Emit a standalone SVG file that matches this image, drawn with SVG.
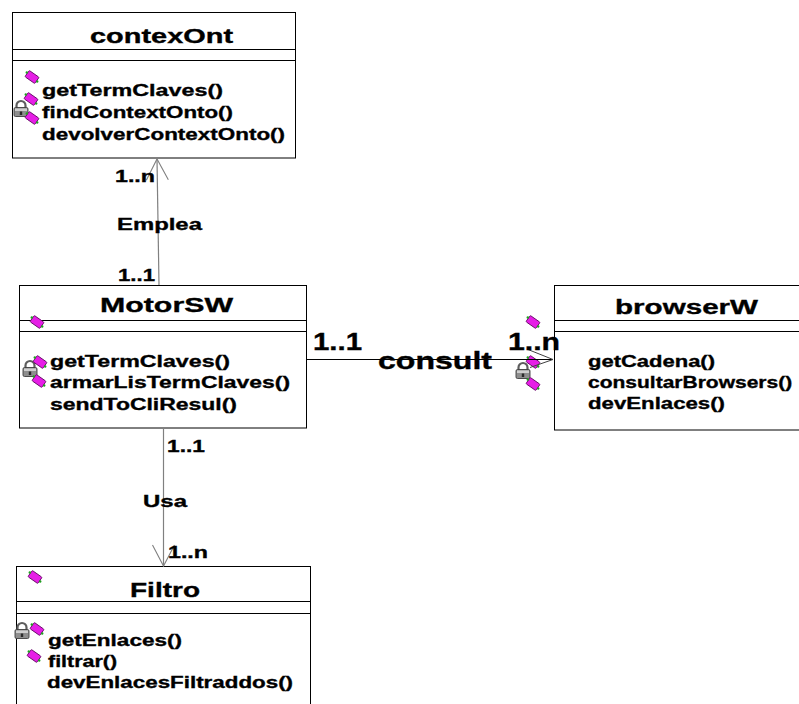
<svg xmlns="http://www.w3.org/2000/svg" width="799" height="704" viewBox="0 0 799 704">
  <style>
    .box { fill: #ffffff; stroke: #000000; stroke-width: 1; }
    .sep { stroke: #000000; stroke-width: 1; }
    text { font-family: "Liberation Sans", Arial, sans-serif; font-weight: bold; fill: #000; stroke: #000; stroke-width: 0.35; }
    .title { font-size: 21px; }
    .op { font-size: 17px; }
    .lbl { font-size: 17px; }
    .lblBig { font-size: 24px; }
    .assoc { stroke: #808080; stroke-width: 1.2; fill: none; }
    .assocDark { stroke: #000000; stroke-width: 1; fill: none; }
  </style>
  <defs>
    <!-- operation icon: tilted magenta tablet -->
    <g id="opIcon">
      <rect x="-6" y="-3.8" width="12" height="7.6" rx="1" transform="rotate(35)" fill="#e61ee6" stroke="#6a0f6a" stroke-width="0.9"/>
      <circle cx="-5.2" cy="-4.5" r="1.2" fill="#1f9f1f"/>
      <circle cx="5.2" cy="4.5" r="1.2" fill="#1f9f1f"/>
    </g>
    <!-- private marker: padlock -->
    <g id="lockIcon">
      <path d="M-4.5,-1 V-3.5 A4.5,4.5 0 0 1 4.5,-3.5 V-1" fill="none" stroke="#5e5e5e" stroke-width="2.2"/>
      <rect x="-7" y="-1.5" width="14" height="9" rx="1.5" fill="#8e8e8e" stroke="#3e3e3e" stroke-width="0.9"/>
      <rect x="-6" y="-0.5" width="12" height="2.5" fill="#cfcfcf"/>
      <rect x="-1.2" y="2.5" width="2.4" height="3.5" fill="#2a2a2a"/>
    </g>
    <marker id="openArrowGray" viewBox="-24 -13 26 26" refX="0" refY="0" markerWidth="26" markerHeight="26" markerUnits="userSpaceOnUse" orient="auto">
      <path d="M-21,-11 L0,0 L-21,11" fill="none" stroke="#808080" stroke-width="1.1"/>
    </marker>
    <marker id="openArrowDark" viewBox="-28 -13 30 26" refX="0" refY="0" markerWidth="30" markerHeight="26" markerUnits="userSpaceOnUse" orient="auto">
      <path d="M-25,-10 L0,0 L-23,8" fill="none" stroke="#404040" stroke-width="1"/>
    </marker>
  </defs>

  <rect x="0" y="0" width="799" height="704" fill="#ffffff"/>

  <!-- class contexOnt -->
  <g id="contexOnt">
    <rect class="box" x="12.5" y="12.5" width="283" height="145.5"/>
    <line class="sep" x1="12.5" y1="49.5" x2="295.5" y2="49.5"/>
    <line class="sep" x1="12.5" y1="60.5" x2="295.5" y2="60.5"/>
    <text class="title" transform="translate(90,43) scale(1.37,1)" textLength="104.4" lengthAdjust="spacingAndGlyphs">contexOnt</text>
    <use href="#opIcon" x="32" y="77"/>
    <use href="#lockIcon" x="21" y="109"/>
    <use href="#opIcon" x="31" y="99"/>
    <use href="#opIcon" x="32" y="118"/>
    <text class="op" transform="translate(42,96) scale(1.37,1)" textLength="132.1" lengthAdjust="spacingAndGlyphs">getTermClaves()</text>
    <text class="op" transform="translate(42,118) scale(1.37,1)" textLength="139.4" lengthAdjust="spacingAndGlyphs">findContextOnto()</text>
    <text class="op" transform="translate(42,140) scale(1.37,1)" textLength="177.4" lengthAdjust="spacingAndGlyphs">devolverContextOnto()</text>
  </g>

  <!-- class MotorSW -->
  <g id="MotorSW">
    <rect class="box" x="19.5" y="285.5" width="287" height="142.5"/>
    <line class="sep" x1="19.5" y1="320.5" x2="306.5" y2="320.5"/>
    <line class="sep" x1="19.5" y1="331.5" x2="306.5" y2="331.5"/>
    <text class="title" transform="translate(100,312) scale(1.37,1)" textLength="97.1" lengthAdjust="spacingAndGlyphs">MotorSW</text>
    <use href="#opIcon" x="37" y="322"/>
    <use href="#lockIcon" x="30" y="369"/>
    <use href="#opIcon" x="40" y="362"/>
    <use href="#opIcon" x="39" y="381"/>
    <text class="op" transform="translate(50,367) scale(1.37,1)" textLength="131.4" lengthAdjust="spacingAndGlyphs">getTermClaves()</text>
    <text class="op" transform="translate(50,388) scale(1.37,1)" textLength="175.2" lengthAdjust="spacingAndGlyphs">armarLisTermClaves()</text>
    <text class="op" transform="translate(50,410) scale(1.37,1)" textLength="136.5" lengthAdjust="spacingAndGlyphs">sendToCliResul()</text>
  </g>

  <!-- class browserW (runs past the right edge) -->
  <g id="browserW">
    <rect class="box" x="554.5" y="285.5" width="260" height="144.5"/>
    <line class="sep" x1="554.5" y1="320.5" x2="814.5" y2="320.5"/>
    <line class="sep" x1="554.5" y1="331.5" x2="814.5" y2="331.5"/>
    <text class="title" transform="translate(615,314) scale(1.37,1)" textLength="104.4" lengthAdjust="spacingAndGlyphs">browserW</text>
    <use href="#opIcon" x="533" y="322"/>
    <use href="#lockIcon" x="523" y="371"/>
    <use href="#opIcon" x="533" y="362"/>
    <use href="#opIcon" x="533" y="384"/>
    <text class="op" transform="translate(588,367) scale(1.37,1)" textLength="92.7" lengthAdjust="spacingAndGlyphs">getCadena()</text>
    <text class="op" transform="translate(588,388) scale(1.37,1)" textLength="149" lengthAdjust="spacingAndGlyphs">consultarBrowsers()</text>
    <text class="op" transform="translate(588,409) scale(1.37,1)" textLength="100" lengthAdjust="spacingAndGlyphs">devEnlaces()</text>
  </g>

  <!-- class Filtro (runs past the bottom edge) -->
  <g id="Filtro">
    <rect class="box" x="16.5" y="566.5" width="294" height="150"/>
    <line class="sep" x1="16.5" y1="601.5" x2="310.5" y2="601.5"/>
    <line class="sep" x1="16.5" y1="613.5" x2="310.5" y2="613.5"/>
    <text class="title" transform="translate(130,597) scale(1.37,1)" textLength="51.1" lengthAdjust="spacingAndGlyphs">Filtro</text>
    <use href="#opIcon" x="35" y="577"/>
    <use href="#lockIcon" x="22" y="631"/>
    <use href="#opIcon" x="37" y="629"/>
    <use href="#opIcon" x="34" y="656"/>
    <text class="op" transform="translate(48,646) scale(1.37,1)" textLength="97.8" lengthAdjust="spacingAndGlyphs">getEnlaces()</text>
    <text class="op" transform="translate(48,667) scale(1.37,1)" textLength="50.4" lengthAdjust="spacingAndGlyphs">filtrar()</text>
    <text class="op" transform="translate(47,688) scale(1.37,1)" textLength="179.6" lengthAdjust="spacingAndGlyphs">devEnlacesFiltraddos()</text>
  </g>

  <!-- associations, drawn last so their labels sit above the class frames -->
  <g id="connectors">
    <line class="assoc" x1="159" y1="285" x2="157" y2="159" marker-end="url(#openArrowGray)"/>
    <line class="assocDark" x1="306" y1="359.5" x2="553" y2="359.5" marker-end="url(#openArrowDark)"/>
    <line class="assoc" x1="163.5" y1="428" x2="163.5" y2="566" marker-end="url(#openArrowGray)"/>

    <text class="lbl" transform="translate(115,182) scale(1.37,1)" textLength="29.2" lengthAdjust="spacingAndGlyphs">1..n</text>
    <text class="lbl" transform="translate(117,230) scale(1.37,1)" textLength="62" lengthAdjust="spacingAndGlyphs">Emplea</text>
    <text class="lbl" transform="translate(118,281) scale(1.37,1)" textLength="27" lengthAdjust="spacingAndGlyphs">1..1</text>

    <text class="lblBig" transform="translate(313,350) scale(1.37,1)" textLength="35.8" lengthAdjust="spacingAndGlyphs">1..1</text>
    <text class="lblBig" transform="translate(378,369) scale(1.37,1)" textLength="83.2" lengthAdjust="spacingAndGlyphs">consult</text>
    <text class="lblBig" transform="translate(508,350) scale(1.37,1)" textLength="38" lengthAdjust="spacingAndGlyphs">1..n</text>

    <text class="lbl" transform="translate(167,452) scale(1.37,1)" textLength="27.7" lengthAdjust="spacingAndGlyphs">1..1</text>
    <text class="lbl" transform="translate(143,507) scale(1.37,1)" textLength="32.1" lengthAdjust="spacingAndGlyphs">Usa</text>
    <text class="lbl" transform="translate(168,558) scale(1.37,1)" textLength="29.2" lengthAdjust="spacingAndGlyphs">1..n</text>
  </g>
</svg>
